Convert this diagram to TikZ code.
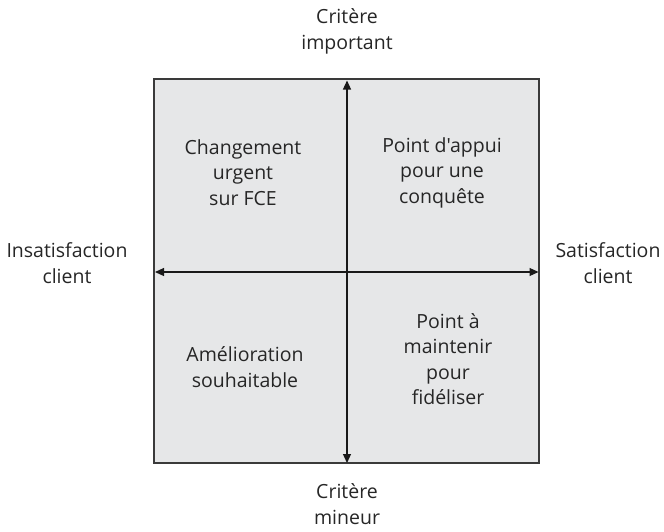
\documentclass[tikz,border=0pt]{standalone}
\usepackage{fontspec}
\setmainfont{Open Sans}[Ligatures=TeXOff]
\usetikzlibrary{arrows.meta}
\definecolor{panel}{HTML}{E6E7E8}
\definecolor{edge}{HTML}{3A3A3A}
\begin{document}
\begin{tikzpicture}[x=1pt,y=-1pt,
  lbl/.style={align=center,font=\fontsize{19.5}{25.5}\selectfont,text=black!85,inner sep=0pt},
  axis/.style={line width=1.2pt,draw=black!90,{Triangle[length=9pt,width=8pt]}-{Triangle[length=9pt,width=8pt]}}]
\useasboundingbox (0,0) rectangle (664,531);
% quadrant panel
\node[draw=edge,line width=1.6pt,fill=panel,minimum width=385pt,minimum height=384pt,inner sep=0pt] (panel) at (346.5,271) {};
\coordinate (top) at (347,80.5);
\coordinate (bot) at (347,463);
\coordinate (lft) at (155,272);
\coordinate (rgt) at (538.5,272);
\draw[axis] (bot) -- (top);
\draw[axis] (lft) -- (rgt);
% axis captions
\node[lbl] (ctop) at (347,31.5) {Critère\\important};
\node[lbl] (cbot) at (347,504) {Critère\\mineur};
\node[lbl] (cleft) at (67,263) {Insatisfaction\\client};
\node[lbl] (cright) at (608,263) {Satisfaction\\client};
% quadrant captions
\node[lbl] (q1) at (243,172.5) {Changement\\urgent\\sur FCE};
\node[lbl] (q2) at (442,172.5) {Point d'appui\\pour une\\conquête};
\node[lbl] (q3) at (245,367) {Amélioration\\souhaitable};
\node[lbl] (q4) at (448,359) {Point à\\maintenir\\pour\\fidéliser};
\end{tikzpicture}
\end{document}
